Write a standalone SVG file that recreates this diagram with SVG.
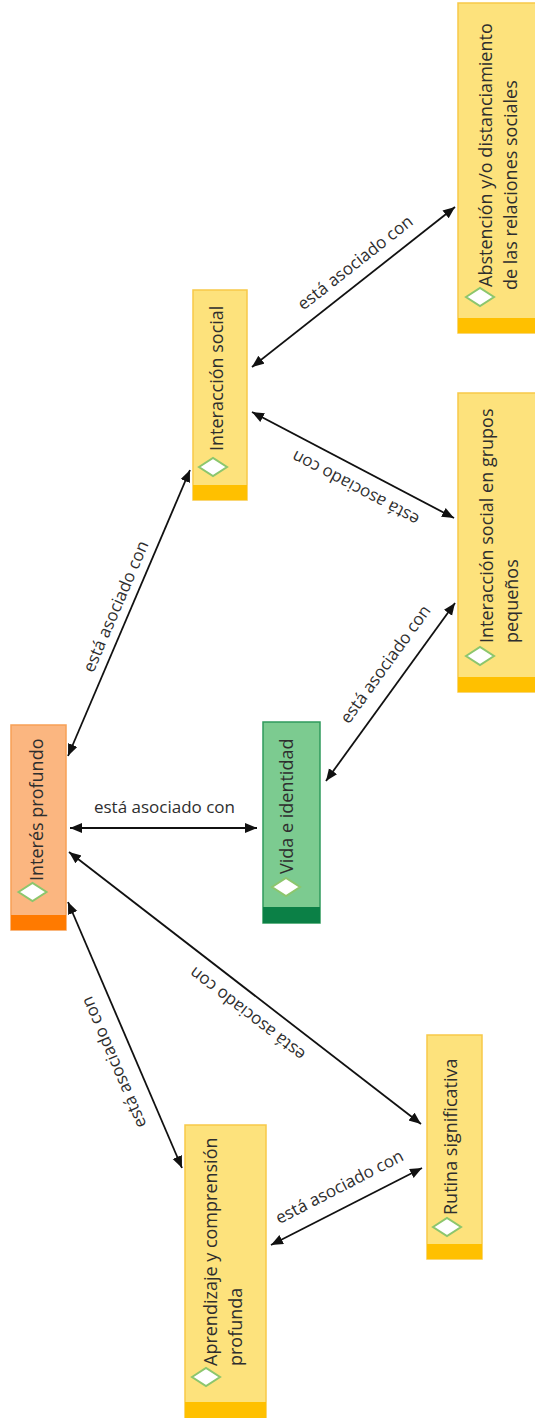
<svg xmlns="http://www.w3.org/2000/svg" width="535" height="1418" viewBox="0 0 535 1418">
<style>
.bg{fill:#ffffff}
.ny{fill:#FDE27C;stroke:#F7C948;stroke-width:1.5}
.by{fill:#FFC000}
.no{fill:#FBB680;stroke:#F7A056;stroke-width:1.5}
.bo{fill:#FF7A00}
.ng{fill:#7CCB90;stroke:#2F9A5C;stroke-width:1.5}
.bgn{fill:#0B8046}
.dm{fill:#ffffff;stroke:#8CC66D;stroke-width:2}
.t{font-family:"Open Sans","Liberation Sans",sans-serif;font-size:18px;fill:#2e2e2e}
.lb{font-family:"Open Sans","Liberation Sans",sans-serif;font-size:17px;fill:#2e2e2e;text-anchor:middle}
.cn{stroke:#111111;stroke-width:1.8;fill:none;marker-start:url(#ah);marker-end:url(#ah)}
</style>
<defs>
<marker id="ah" markerUnits="userSpaceOnUse" markerWidth="13" markerHeight="11" refX="12" refY="5" orient="auto-start-reverse">
<path d="M0,0 L12,5 L0,10 z" fill="#111111"/>
</marker>
</defs>
<rect class="bg" x="0" y="0" width="535" height="1418"/>

<g id="connectors">
<line class="cn" x1="68" y1="756" x2="190" y2="470"/>
<line class="cn" x1="70" y1="828" x2="257" y2="828"/>
<line class="cn" x1="69" y1="852" x2="421" y2="1124"/>
<line class="cn" x1="68" y1="902" x2="182" y2="1168"/>
<line class="cn" x1="252" y1="367" x2="455" y2="207"/>
<line class="cn" x1="252" y1="412" x2="454" y2="518"/>
<line class="cn" x1="455" y1="603" x2="326" y2="781"/>
<line class="cn" x1="422" y1="1168" x2="271" y2="1245"/>
<text class="lb" transform="translate(121.1,608.8) rotate(-66.7)">está asociado con</text>
<text class="lb" x="164.5" y="813">está asociado con</text>
<text class="lb" transform="translate(250.8,1009.4) rotate(-142.25)">está asociado con</text>
<text class="lb" transform="translate(119.1,1060.2) rotate(-113)">está asociado con</text>
<text class="lb" transform="translate(358.8,267.2) rotate(-38.2)">está asociado con</text>
<text class="lb" transform="translate(358.1,483) rotate(-152.2)">está asociado con</text>
<text class="lb" transform="translate(390.1,667.6) rotate(-54.1)">está asociado con</text>
<text class="lb" transform="translate(342.1,1192) rotate(-27.2)">está asociado con</text>
</g>

<g id="interes-profundo">
<rect class="no" x="11" y="725" width="55" height="205"/>
<rect class="bo" x="11" y="915" width="55" height="15"/>
<path class="dm" d="M18.5,892 L32.5,883 L46.5,892 L32.5,901 z"/>
<text class="t" transform="translate(43,881) rotate(-90)">Interés profundo</text>
</g>

<g id="interaccion-social">
<rect class="ny" x="193" y="290" width="54" height="210"/>
<rect class="by" x="193" y="485" width="54" height="15"/>
<path class="dm" d="M199,467 L213,458 L227,467 L213,476 z"/>
<text class="t" transform="translate(223,451) rotate(-90)">Interacción social</text>
</g>

<g id="abstencion">
<rect class="ny" x="458" y="3" width="84" height="330"/>
<rect class="by" x="458" y="318" width="84" height="15"/>
<path class="dm" d="M466,297 L480,288 L494,297 L480,306 z"/>
<text class="t" transform="translate(492,287) rotate(-90)">Abstención y/o distanciamiento</text>
<text class="t" transform="translate(517,290) rotate(-90)">de las relaciones sociales</text>
</g>

<g id="grupos-pequenos">
<rect class="ny" x="458" y="393" width="84" height="299"/>
<rect class="by" x="458" y="677" width="84" height="15"/>
<path class="dm" d="M466,656 L480,647 L494,656 L480,665 z"/>
<text class="t" transform="translate(493,643) rotate(-90)">Interacción social en grupos</text>
<text class="t" transform="translate(518,643) rotate(-90)">pequeños</text>
</g>

<g id="vida-identidad">
<rect class="ng" x="263" y="722" width="57" height="201"/>
<rect class="bgn" x="263" y="907" width="57" height="16"/>
<path class="dm" d="M272,887 L286,878 L300,887 L286,896 z"/>
<text class="t" transform="translate(293,874) rotate(-90)">Vida e identidad</text>
</g>

<g id="rutina-significativa">
<rect class="ny" x="427" y="1035" width="55" height="224"/>
<rect class="by" x="427" y="1244" width="55" height="15"/>
<path class="dm" d="M433,1227 L447,1218 L461,1227 L447,1236 z"/>
<text class="t" transform="translate(457,1215) rotate(-90)">Rutina significativa</text>
</g>

<g id="aprendizaje">
<rect class="ny" x="185" y="1125" width="81" height="300"/>
<rect class="by" x="185" y="1402" width="81" height="20"/>
<path class="dm" d="M192,1377 L206,1368 L220,1377 L206,1386 z"/>
<text class="t" transform="translate(217,1366) rotate(-90)">Aprendizaje y comprensión</text>
<text class="t" transform="translate(242,1366) rotate(-90)">profunda</text>
</g>
</svg>
